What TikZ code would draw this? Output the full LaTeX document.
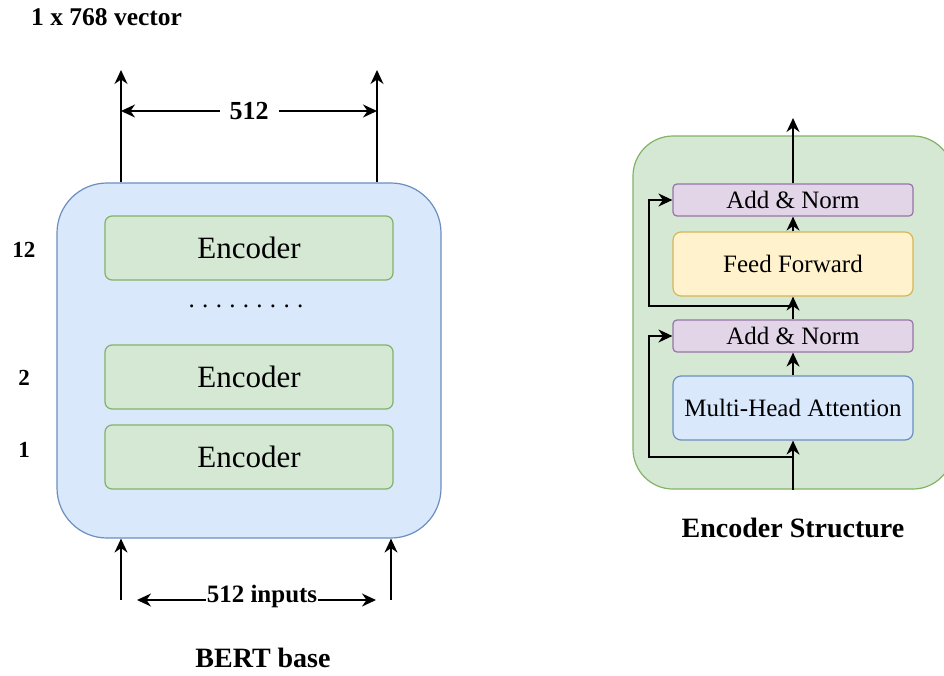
\documentclass[tikz,border=0pt]{standalone}
\usepackage{fontspec}
\setmainfont{Liberation Serif}
\usetikzlibrary{arrows.meta}
\definecolor{bluefill}{HTML}{DAE8FC}
\definecolor{bluedraw}{HTML}{6C8EBF}
\definecolor{greenfill}{HTML}{D5E8D4}
\definecolor{greendraw}{HTML}{82B366}
\definecolor{purplefill}{HTML}{E1D5E7}
\definecolor{purpledraw}{HTML}{9673A6}
\definecolor{yellowfill}{HTML}{FFF2CC}
\definecolor{yellowdraw}{HTML}{D6B656}
\tikzset{
  tip/.style={-{Stealth[length=14pt,width=13pt,inset=4.5pt]}},
  arr/.style={line width=1.6pt, tip},
  darr/.style={line width=1.6pt, {Stealth[length=14pt,width=13pt,inset=4.5pt]}-{Stealth[length=14pt,width=13pt,inset=4.5pt]}},
  bigbox/.style={draw=bluedraw, fill=bluefill, line width=1.2pt, rounded corners=50pt, minimum width=384pt, minimum height=355pt},
  encbox/.style={draw=greendraw, fill=greenfill, line width=1.2pt, rounded corners=7pt, minimum width=288pt, minimum height=64pt, font=\fontsize{31}{36}\selectfont},
  sbox/.style={line width=1.2pt, minimum width=240pt, font=\fontsize{25}{30}\selectfont, inner sep=0pt},
  lbl/.style={font=\bfseries\fontsize{23}{27}\selectfont},
  title/.style={font=\bfseries\fontsize{28}{32}\selectfont},
}
\begin{document}
\begin{tikzpicture}[x=1pt,y=-1pt]
\useasboundingbox (0,0) rectangle (944,675);
\clip (0,0) rectangle (944,675);
\fill[white] (0,0) rectangle (944,675);

% ---------- BERT base ----------
\node[bigbox] (bert) at (249,360.5) {};
\node[encbox] (enc12) at (249,248) {Encoder};
\node[encbox] (enc2) at (249,377) {Encoder};
\node[encbox] (enc1) at (249,457) {Encoder};
\node[font=\fontsize{25}{30}\selectfont] (dots) at (246,306)
  {.\hspace{7.3pt}.\hspace{7.3pt}.\hspace{7.3pt}.\hspace{7.3pt}.\hspace{7.3pt}.\hspace{7.3pt}.\hspace{7.3pt}.\hspace{7.3pt}.};

\node[lbl] (l12) at (24,250) {12};
\node[lbl] (l2) at (24,378) {2};
\node[lbl] (l1) at (24,450) {1};

\node[font=\bfseries\fontsize{25.5}{30}\selectfont, anchor=west, inner sep=0pt] (vec) at (31,17) {1 x 768 vector};

\coordinate (o1) at (121,70);
\coordinate (o2) at (377,70);
\draw[arr] (bert.north -| o1) -- (o1);
\draw[arr] (bert.north -| o2) -- (o2);
\coordinate (d1) at (121,111);
\coordinate (d2) at (377,111);
\draw[darr] (d1) -- (d2) node[midway, fill=white, inner xsep=10pt, inner ysep=2pt, font=\bfseries\fontsize{26}{30}\selectfont] (n512) {512};

\coordinate (i1) at (121,600);
\coordinate (i2) at (391,600);
\draw[arr] (i1) -- (i1 |- bert.south);
\draw[arr] (i2) -- (i2 |- bert.south);
\coordinate (e1) at (137,600);
\coordinate (e2) at (376,600);
\draw[darr] (e1) -- (e2);
\node[fill=white, inner xsep=1pt, inner ysep=0pt, font=\bfseries\fontsize{25}{30}\selectfont] (inp) at (262,596) {512 inputs};

\node[title] (bertlbl) at (263,658) {BERT base};

% ---------- Encoder structure ----------
\node[draw=greendraw, fill=greenfill, line width=1.2pt, rounded corners=40pt, minimum width=320pt, minimum height=353pt] (estr) at (793,312.5) {};
\node[sbox, draw=purpledraw, fill=purplefill, rounded corners=4pt, minimum height=32pt] (an2) at (793,200) {Add \& Norm};
\node[sbox, draw=yellowdraw, fill=yellowfill, rounded corners=8pt, minimum height=64pt] (ff) at (793,264) {Feed Forward};
\node[sbox, draw=purpledraw, fill=purplefill, rounded corners=4pt, minimum height=32pt] (an1) at (793,336) {Add \& Norm};
\node[sbox, draw=bluedraw, fill=bluefill, rounded corners=8pt, minimum height=64pt] (mha) at (793,408) {Multi-Head Attention};

\coordinate (out) at (793,118);
\draw[arr] (estr.south) -- (mha.south);
\draw[arr] (mha.north) -- (an1.south);
\draw[arr] (an1.north) -- (ff.south);
\draw[arr] (ff.north) -- (an2.south);
\draw[arr] (an2.north) -- (out);

\coordinate (r1) at (793,457);
\coordinate (rx1) at (649,457);
\draw[arr] (r1) -- (rx1) |- (an1.west);
\coordinate (r2) at (793,306);
\coordinate (rx2) at (649,306);
\draw[arr] (r2) -- (rx2) |- (an2.west);

\node[title] (estrlbl) at (793,528) {Encoder Structure};
\end{tikzpicture}
\end{document}
